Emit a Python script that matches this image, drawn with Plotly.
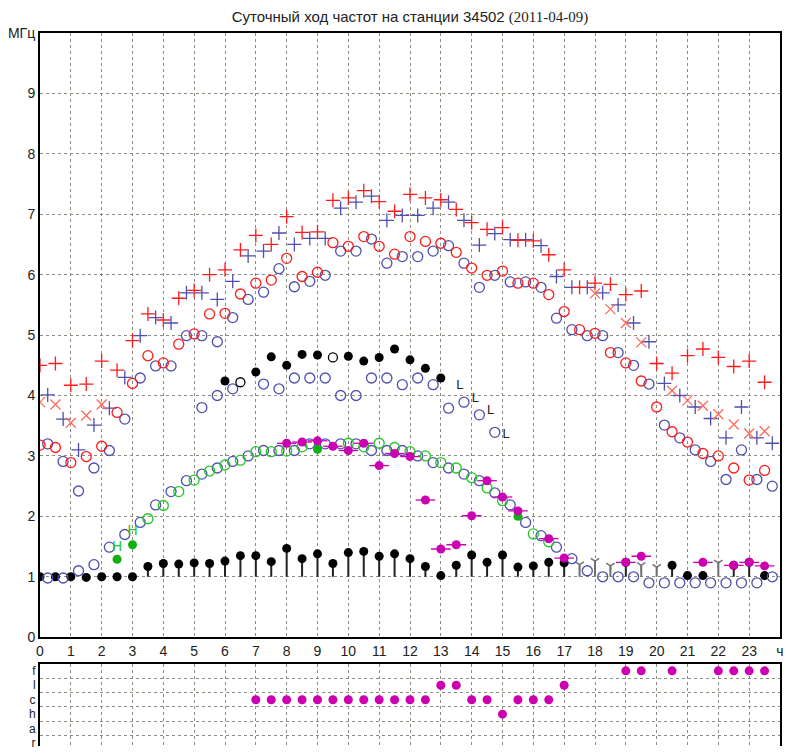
import plotly.graph_objects as go

# ---- time grids (hours, UT) ----
T_HALF = [i * 0.5 for i in range(48)]            # 00:00, 00:30, ...
T_QUART = [0.25 + i * 0.5 for i in range(48)]    # 00:15, 00:45, ...

# ---- station ionosonde (red / black / green / magenta), 30-min cadence ----
fxF2_red = [4.50, 4.53, 4.17, 4.19, 4.57, 4.42, 4.91, 5.35, 5.25, 5.61, 5.74, 6.00,
            6.08, 6.41, 6.65, 6.50, 6.96, 6.70, 6.71, 7.23, 7.27, 7.39, 7.21, 7.05,
            7.33, 7.27, 7.24, 7.08, 6.86, 6.75, 6.78, 6.57, 6.56, 6.33, 6.08, 5.79,
            5.86, 5.84, 5.67, 5.73, 4.53, 4.37, 4.66, 4.77, 4.63, 4.48, 4.57, 4.22]

foF2_red = [3.18, 3.14, 2.89, 2.99, 3.16, 3.72, 4.20, 4.66, 4.54, 4.85, 5.02, 5.35,
            5.36, 5.68, 5.86, 5.91, 6.27, 5.97, 6.04, 6.53, 6.47, 6.63, 6.47, 6.34,
            6.63, 6.55, 6.52, 6.37, 6.11, 5.99, 6.06, 5.86, 5.86, 5.67, 5.39, 5.09,
            5.03, 4.71, 4.54, 4.24, 3.81, 3.40, 3.23, 3.04, 3.00, 2.80, 2.60, 2.76]

# spread-F boundary (night only)
fspread_red = [3.89, 3.85, 3.55, 3.67, 3.85, None, None, None, None, None, None, None,
               None, None, None, None, None, None, None, None, None, None, None, None,
               None, None, None, None, None, None, None, None, None, None, None, None,
               5.69, 5.43, 5.20, 4.88, None, 4.08, 3.92, 3.83, 3.69, 3.52, 3.37, 3.41]

# foF1 (filled = reliable, open = doubtful)
f1_hours = [6.0, 7.0, 7.5, 8.0, 8.5, 9.0, 10.0, 10.5, 11.0, 11.5, 12.0, 12.5, 13.0]
f1_vals = [4.24, 4.39, 4.64, 4.50, 4.68, 4.67, 4.65, 4.57, 4.63, 4.77, 4.59, 4.45, 4.29]
f1_open_hours = [6.5, 9.5]
f1_open_vals = [4.22, 4.63]
f1_L_hours = [13.5, 14.0, 14.5, 15.0]
f1_L_vals = [4.17, 3.94, 3.75, 3.35]

# foE
foE_hours = [3.5, 4.0, 4.5, 5.0, 5.5, 6.0, 6.5, 7.0, 7.5, 8.0, 8.5, 10.0, 10.5,
             11.0, 11.5, 12.0, 12.5, 13.0, 13.5, 14.0, 14.5, 15.0, 16.0, 16.5]
foE_vals = [1.96, 2.18, 2.41, 2.60, 2.75, 2.85, 2.93, 3.07, 3.07, 3.08, 3.15, 3.21, 3.15,
            3.21, 3.14, 3.07, 3.00, 2.89, 2.80, 2.64, 2.47, 2.26, 1.71, 1.58]
foE_fill_hours = [2.5, 3.0, 9.0, 15.5]
foE_fill_vals = [1.29, 1.53, 3.11, 2.00]
foE_H_hours = [2.5, 3.0]
foE_H_vals = [1.49, 1.75]

# foEs
foEs_hours = [8.0, 8.5, 9.0, 9.5, 10.0, 10.5, 11.0, 11.5, 12.0, 12.5, 13.0, 13.5,
              14.0, 14.5, 15.0, 15.5, 16.5, 17.0, 19.0, 19.5, 21.5, 22.5, 23.0, 23.5]
foEs_vals = [3.21, 3.23, 3.25, 3.16, 3.09, 3.21, 2.84, 3.04, 2.99, 2.27, 1.46, 1.53,
             2.01, 2.59, 2.32, 2.09, 1.63, 1.31, 1.24, 1.34, 1.24, 1.19, 1.24, 1.18]

# fmin (stems from 1 MHz)
fmin_vals = [1.00, 1.00, 1.00, 0.99, 1.00, 1.00, 1.00, 1.17, 1.22, 1.21, 1.23, 1.22,
             1.26, 1.35, 1.35, 1.25, 1.47, 1.30, 1.38, 1.22, 1.40, 1.42, 1.34, 1.38,
             1.30, 1.17, 1.02, 1.19, 1.36, 1.24, 1.36, 1.16, 1.18, 1.24, 1.23, None,
             None, None, 1.24, None, None, 1.19, 1.02, 1.02, None, 1.19, 1.24, 1.02]
fmin_lim_hours = [17.5, 18.0, 18.5, 19.5, 20.0, 22.0]
fmin_lim_vals = [1.20, 1.26, 1.18, 1.19, 1.16, 1.23]

# ---- second sounder (blue), offset 15 min ----
fxF2_blue = [4.01, 3.61, 3.10, 3.51, 3.79, 4.30, 4.99, 5.29, 5.20, 5.70, 5.70, 5.59,
             5.89, 6.31, 6.39, 6.69, 6.50, 6.60, 6.60, 7.10, 7.20, 7.30, 6.90, 6.98,
             6.98, 7.10, 7.20, 6.90, 6.49, 6.68, 6.58, 6.58, 6.48, 5.97, 5.79, 5.79,
             5.70, 5.50, 5.20, 4.89, 4.20, 4.00, 3.81, 3.62, 3.30, 3.81, 3.30, 3.21]
foF2_blue = [3.20, 2.91, 2.42, 2.80, 3.09, 3.61, 4.29, 4.49, 4.49, 4.99, 4.99, 4.89,
             5.29, 5.59, 5.71, 6.10, 5.80, 5.89, 5.99, 6.39, 6.39, 6.59, 6.19, 6.30,
             6.30, 6.39, 6.48, 6.19, 5.79, 5.99, 5.88, 5.88, 5.79, 5.28, 5.09, 4.99,
             4.99, 4.71, 4.50, 4.19, 3.51, 3.30, 3.10, 2.91, 2.61, 3.10, 2.61, 2.50]
foF1_blue = [None, None, None, None, None, None, None, None, None, None, 3.80, 4.00,
             4.11, None, 4.19, 4.11, 4.29, 4.29, 4.29, 4.00, 4.00, 4.29, 4.29, 4.18,
             4.29, 4.18, 3.79, 3.89, 3.68, 3.39, None, None, None, None, None, None,
             None, None, None, None, None, None, None, None, None, None, None, None]
foE_blue = [0.98, 0.98, 1.10, 1.20, 1.49, 1.70, 1.90, 2.19, 2.41, 2.59, 2.70, 2.80,
            2.91, 3.00, 3.09, 3.09, 3.09, 3.20, 3.20, 3.20, 3.20, 3.09, 3.09, 3.09,
            3.00, 2.89, 2.80, 2.70, 2.59, 2.39, 2.19, 1.90, 1.68, 1.49, 1.30, 1.10,
            1.00, 1.00, 1.00, 0.90, 0.90, 0.90, 0.90, 0.90, 0.90, 0.90, 0.90, 1.00]

# ---- Es type panel ----
ES_TYPES = ["r", "a", "h", "c", "l", "f"]
es_type_hours = [7.0, 7.5, 8.0, 8.5, 9.0, 9.5, 10.0, 10.5, 11.0, 11.5, 12.0, 12.5,
                 13.0, 13.5, 14.0, 14.5, 15.0, 15.5, 16.0, 16.5, 17.0,
                 19.0, 19.5, 20.5, 22.0, 22.5, 23.0, 23.5]
es_type_codes = ["c", "c", "c", "c", "c", "c", "c", "c", "c", "c", "c", "c",
                 "l", "l", "c", "c", "h", "c", "c", "c", "l",
                 "f", "f", "f", "f", "f", "f", "f"]

HOUR_LABELS = [str(h) for h in range(24)] + ["ч"]

RED = "#ff1a1a"
RED_X = "#ff6a5a"
BLUE = "#4f4fb0"
GREEN = "#22c822"
MAGENTA = "#cc00b0"
GRID = "#8c8c80"
FONT = "Liberation Sans, Arial, sans-serif"

fig = go.Figure()


def stems(hours, vals):
    xs, ys = [], []
    for h, v in zip(hours, vals):
        if v is not None and v > 1.03:
            xs += [h, h, None]
            ys += [1.0, v, None]
    return xs, ys


# fmin stems
sx, sy = stems(fmin_lim_hours, fmin_lim_vals)
fig.add_trace(go.Scatter(x=sx, y=sy, mode="lines", line=dict(color="#707070", width=2),
                         hoverinfo="skip", showlegend=False))
fig.add_trace(go.Scatter(x=fmin_lim_hours, y=fmin_lim_vals, mode="markers",
                         marker=dict(symbol="y-down", size=7, color="#707070",
                                     line=dict(color="#707070", width=1.5)),
                         showlegend=False))
sx, sy = stems(T_HALF, fmin_vals)
fig.add_trace(go.Scatter(x=sx, y=sy, mode="lines", line=dict(color="#222222", width=2),
                         hoverinfo="skip", showlegend=False))
fig.add_trace(go.Scatter(x=T_HALF, y=fmin_vals, mode="markers",
                         marker=dict(symbol="circle", size=9, color="black"),
                         showlegend=False))


def pts(x, y, symbol, color, size=10, width=1.3):
    fig.add_trace(go.Scatter(
        x=x, y=y, mode="markers", showlegend=False,
        marker=dict(symbol=symbol, size=size, color=color,
                    line=dict(color=color, width=width))))


# blue sounder
pts(T_QUART, foE_blue, "circle-open", BLUE)
pts(T_QUART, foF1_blue, "circle-open", BLUE)
pts(T_QUART, foF2_blue, "circle-open", BLUE)
pts(T_QUART, fxF2_blue, "cross-thin", BLUE, size=10, width=1.3)

# red sounder
pts(T_HALF, foF2_red, "circle-open", RED)
pts(T_HALF, fxF2_red, "cross-thin", RED, size=10, width=1.3)
pts(T_HALF, fspread_red, "x-thin", RED_X, size=10, width=1.3)

# F1
pts(f1_hours, f1_vals, "circle", "black", size=9, width=0)
pts(f1_open_hours, f1_open_vals, "circle-open", "black", size=9)
fig.add_trace(go.Scatter(x=f1_L_hours, y=f1_L_vals, mode="text", text=["L"] * len(f1_L_hours),
                         textposition="middle right",
                         textfont=dict(family=FONT, size=13, color="#222222"),
                         showlegend=False))

# E layer
pts(foE_hours, foE_vals, "circle-open", GREEN)
pts(foE_fill_hours, foE_fill_vals, "circle", "#10b010", size=9, width=0)
fig.add_trace(go.Scatter(x=foE_H_hours, y=foE_H_vals, mode="text", text=["H"] * len(foE_H_hours),
                         textfont=dict(family=FONT, size=14, color=GREEN),
                         showlegend=False))

# Es
pts(foEs_hours, foEs_vals, "line-ew", MAGENTA, size=14, width=1.3)
pts(foEs_hours, foEs_vals, "circle", MAGENTA, size=9, width=0)

# Es type panel
fig.add_trace(go.Scatter(x=es_type_hours, y=[ES_TYPES.index(c) for c in es_type_codes],
                         mode="markers", xaxis="x2", yaxis="y2", showlegend=False,
                         marker=dict(symbol="circle", size=9, color=MAGENTA)))

axis_common = dict(showline=True, linecolor="black", linewidth=2, ticks="",
                   zeroline=False,
                   gridcolor=GRID, griddash="dot", gridwidth=1)
tick_font = dict(family=FONT, size=14, color="#222222")

fig.update_layout(
    width=786, height=754,
    margin=dict(l=40, r=6, t=33, b=0),
    paper_bgcolor="white", plot_bgcolor="white",
    font=dict(family=FONT, color="#222222"),
    title=dict(
        text="Суточный ход частот на станции 34502 "
             "<span style='font-family:Liberation Serif, Times New Roman, serif'>(2011-04-09)</span>",
        font=dict(family=FONT, size=15, color="#222222"),
        xref="container", yref="container", x=0.5216, y=0.978,
        xanchor="center", yanchor="middle"),
    xaxis=dict(domain=[0, 1], range=[0, 24], anchor="y", tickmode="array",
               tickvals=list(range(25)), ticktext=HOUR_LABELS, showgrid=True,
               mirror=True, tickfont=tick_font, **axis_common),
    yaxis=dict(domain=[0.1526, 1], range=[0, 10], anchor="x", tickmode="array",
               tickvals=list(range(11)), ticktext=[str(v) for v in range(10)] + ["МГц"],
               showgrid=True, mirror=True, tickfont=tick_font, **axis_common),
    xaxis2=dict(domain=[0, 1], range=[0, 24], anchor="y2", side="top",
                tickvals=list(range(25)), showticklabels=False, showgrid=True,
                mirror=False, **axis_common),
    yaxis2=dict(domain=[0, 0.1155], range=[-0.21, 5.5], anchor="x2", tickmode="array",
                tickvals=list(range(6)), ticktext=ES_TYPES, showgrid=False, mirror=True,
                tickfont=dict(family=FONT, size=12, color="#222222"),
                minor=dict(tickvals=[0.5, 1.5, 2.5, 3.5, 4.5], showgrid=True,
                           gridcolor=GRID, griddash="dot", gridwidth=1, ticks=""),
                **axis_common),
)

fig.write_html("out.html")
